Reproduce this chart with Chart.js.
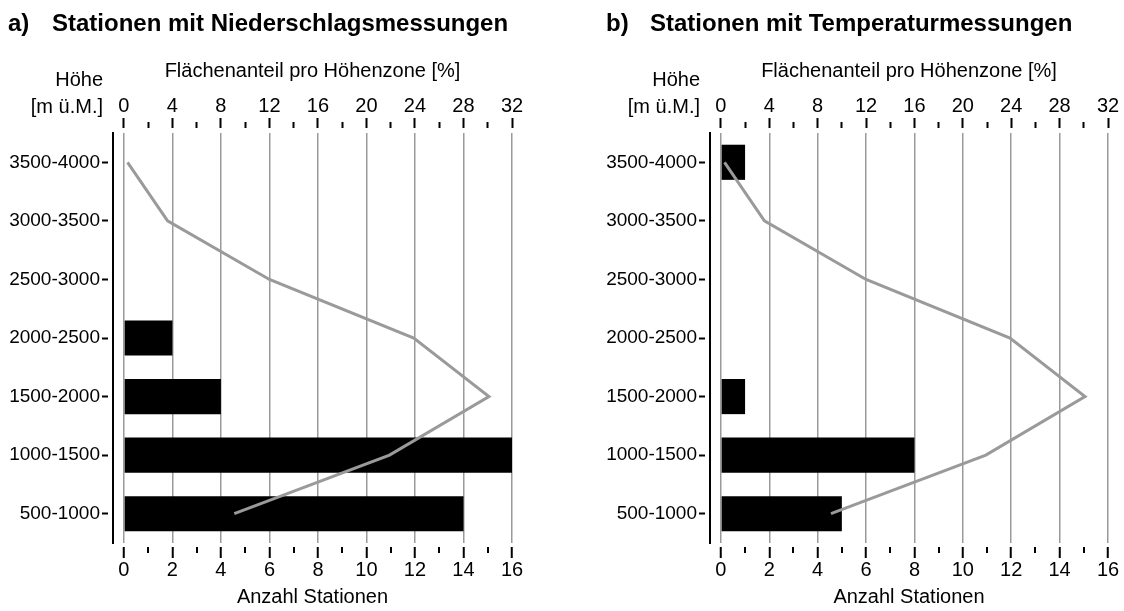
<!DOCTYPE html>
<html>
<head>
<meta charset="utf-8">
<script src="https://cdn.jsdelivr.net/npm/chart.js@4.4.0/dist/chart.umd.min.js"></script>
<style>
  body { margin: 0; background: #fff; width: 1124px; height: 611px; position: relative; overflow: hidden; }
  canvas { position: absolute; top: 0; }
  .heading { position: absolute; top: 9px; font-family: 'Liberation Sans', Arial, sans-serif;
             font-weight: bold; font-size: 24px; color: #000; white-space: nowrap; }
</style>
</head>
<body>
<canvas id="chart-a" width="560" height="611" style="left:0"></canvas>
<canvas id="chart-b" width="526" height="611" style="left:598px"></canvas>
<div class="heading" style="left:8px">a)</div>
<div class="heading" style="left:52px">Stationen mit Niederschlagsmessungen</div>
<div class="heading" style="left:606px">b)</div>
<div class="heading" style="left:650px">Stationen mit Temperaturmessungen</div>
<script>
const FONT = "'Liberation Sans', Arial, sans-serif";

// altitude zones, top to bottom
const zones = ["3500-4000", "3000-3500", "2500-3000", "2000-2500", "1500-2000", "1000-1500", "500-1000"];
// share of area per zone [%]
const areaShare = [0.3, 3.6, 12.0, 23.9, 30.1, 21.9, 9.1];
// number of stations per zone
const stationsPrecip = [0, 0, 0, 2, 4, 16, 14];
const stationsTemp = [1, 0, 0, 0, 1, 8, 5];

const stationTicks = [0, 1, 2, 3, 4, 5, 6, 7, 8, 9, 10, 11, 12, 13, 14, 15, 16];
const shareTicks = [0, 2, 4, 6, 8, 10, 12, 14, 16, 18, 20, 22, 24, 26, 28, 30, 32];

// "Höhe [m ü.M.]" above the category labels
const heightLabel = {
  id: 'heightLabel',
  afterDraw(chart) {
    const { ctx, chartArea, scales } = chart;
    ctx.save();
    ctx.font = `20px ${FONT}`;
    ctx.fillStyle = '#000';
    ctx.textAlign = 'right';
    ctx.textBaseline = 'middle';
    const x = scales.y.right - 10;
    ctx.fillText('Höhe', x, chartArea.top - 53);
    ctx.fillText('[m ü.M.]', x, chartArea.top - 26);
    ctx.restore();
  }
};

function makeChart(id, stations, axisWidth, padRight) {
  const font = { family: FONT, size: 19 };
  const numFont = { family: FONT, size: 20 };
  const titleFont = { family: FONT, size: 20 };
  return new Chart(document.getElementById(id), {
    type: 'bar',
    data: {
      labels: zones,
      datasets: [
        {
          type: 'line',
          data: areaShare,
          indexAxis: 'y',
          xAxisID: 'share',
          yAxisID: 'y',
          borderColor: '#9a9a9a',
          borderWidth: 3,
          pointRadius: 0,
          tension: 0,
          fill: false,
          order: 0
        },
        {
          type: 'bar',
          data: stations,
          indexAxis: 'y',
          xAxisID: 'x',
          yAxisID: 'y',
          backgroundColor: '#000',
          borderWidth: 0,
          barPercentage: 0.6,
          categoryPercentage: 1,
          order: 1
        }
      ]
    },
    options: {
      indexAxis: 'y',
      responsive: false,
      animation: false,
      layout: { padding: { top: 55, right: padRight, left: 0, bottom: 0 } },
      plugins: { legend: { display: false }, tooltip: { enabled: false } },
      scales: {
        y: {
          type: 'category',
          position: 'left',
          offset: true,
          grid: { drawOnChartArea: false, offset: false, tickLength: 11, tickColor: '#000', tickWidth: 2, tickBorderDash: [6, 5] },
          border: { display: true, color: '#000', width: 2 },
          ticks: { color: '#000', font: font, padding: 2 },
          afterFit: s => { s.width = axisWidth; }
        },
        x: {
          type: 'linear',
          position: 'bottom',
          min: -0.45,
          max: 16,
          afterBuildTicks: s => { s.ticks = stationTicks.map(v => ({ value: v })); },
          grid: {
            color: c => (c.tick && c.tick.value % 2 === 0) ? '#9a9a9a' : 'rgba(0,0,0,0)',
            lineWidth: c => (c.tick && c.tick.value % 2 === 0) ? 1.5 : 0,
            tickLength: 15,
            tickColor: '#000',
            tickWidth: 2,
            tickBorderDash: c => (c.tick && c.tick.value % 2 === 0) ? [0, 4, 11, 100] : [0, 4, 6, 100]
          },
          border: { display: false },
          ticks: { autoSkip: false, maxRotation: 0, color: '#000', font: numFont, padding: 0,
                   callback: v => v % 2 === 0 ? v : '' },
          title: { display: true, text: 'Anzahl Stationen', color: '#000', font: titleFont, padding: { top: 0, bottom: 2 } },
          afterFit: s => { s.height = 68; }
        },
        share: {
          type: 'linear',
          position: 'top',
          min: -0.9,
          max: 32,
          afterBuildTicks: s => { s.ticks = shareTicks.map(v => ({ value: v })); },
          grid: {
            drawOnChartArea: false,
            tickLength: 15,
            tickColor: '#000',
            tickWidth: 2,
            tickBorderDash: c => (c.tick && c.tick.value % 4 === 0) ? [10, 5] : [0, 4, 6, 100]
          },
          border: { display: false },
          ticks: { autoSkip: false, maxRotation: 0, color: '#000', font: numFont, padding: 0,
                   callback: v => v % 4 === 0 ? v : '' },
          title: { display: true, text: 'Flächenanteil pro Höhenzone [%]', color: '#000', font: titleFont, padding: { top: 4, bottom: 0 } },
          afterFit: s => { s.height = 78; }
        }
      }
    },
    plugins: [heightLabel]
  });
}

makeChart('chart-a', stationsPrecip, 113, 48);
makeChart('chart-b', stationsTemp, 112, 16);
</script>
</body>
</html>
